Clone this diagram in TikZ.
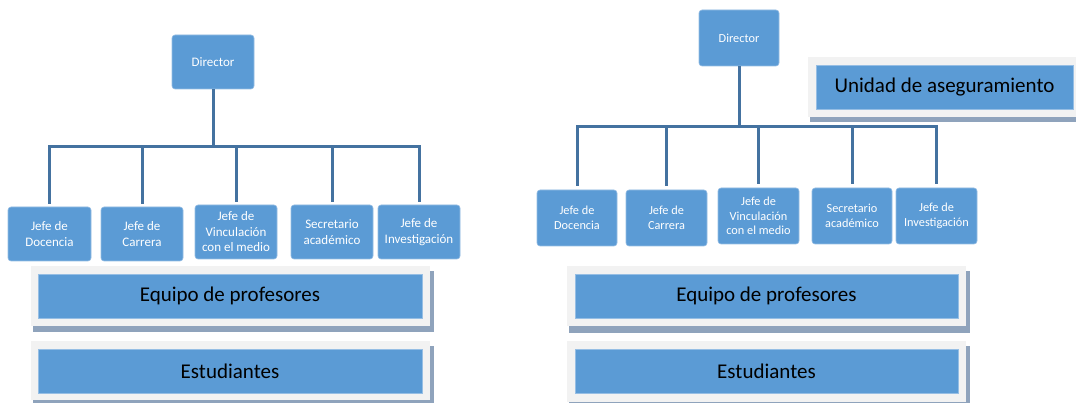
\documentclass[tikz,border=0pt]{standalone}
\usepackage{fontspec}
\setmainfont{Carlito}
\definecolor{boxblue}{RGB}{91,155,213}
\definecolor{boxedge}{RGB}{150,190,228}
\definecolor{connblue}{RGB}{68,114,160}
\definecolor{framegrey}{RGB}{242,242,242}
\definecolor{shadowgrey}{RGB}{143,163,188}
\tikzset{
  orgbox/.style={draw=boxedge, line width=0.6pt, fill=boxblue, rounded corners=3pt,
    text=white, align=center, inner sep=0pt},
  leftsmall/.style={orgbox, font=\fontsize{13}{15.5}\selectfont},
  rightsmall/.style={orgbox, font=\fontsize{12.3}{14.5}\selectfont},
  bigbox/.style={fill=boxblue, draw=boxedge, line width=0.4pt, text=black, inner sep=0pt,
    font=\fontsize{21}{25}\selectfont},
  conn/.style={draw=connblue, line width=3pt},
}
\begin{document}
\begin{tikzpicture}[x=1pt,y=-1pt]
\clip (0,0) rectangle (1076,403);
\fill[white] (0,0) rectangle (1076,403);

% ---------- left chart ----------
\node[leftsmall, minimum width=82pt, minimum height=54pt] (dL) at (213,62) {Director};
\node[leftsmall, minimum width=83pt, minimum height=54pt] (L1) at (49.5,234) {Jefe de\\Docencia};
\node[leftsmall, minimum width=82pt, minimum height=54pt] (L2) at (142,234) {Jefe de\\Carrera};
\node[leftsmall, minimum width=82pt, minimum height=54pt] (L3) at (236,232) {Jefe de\\Vinculación\\con el medio};
\node[leftsmall, minimum width=82pt, minimum height=54pt] (L4) at (332,232) {Secretario\\académico};
\node[leftsmall, minimum width=82pt, minimum height=54pt] (L5) at (419,232) {Jefe de\\Investigación};
\coordinate (busL) at (0,147);
\foreach \c in {L1,L2,L3,L4,L5}{
  \draw[conn, shorten >=3pt] (dL.south) -- (dL.south |- busL) -| (\c.north);
}

% big boxes left
\fill[shadowgrey] (33,271) rectangle (434,332);
\fill[framegrey] (31,266) rectangle (430,326);
\node[bigbox, minimum width=384pt, minimum height=44pt] (eqL) at (230,296) {Equipo de profesores};
\fill[shadowgrey] (33,346) rectangle (434,407);
\fill[framegrey] (31,341) rectangle (430,400);
\node[bigbox, minimum width=384pt, minimum height=44pt] (esL) at (230,371) {Estudiantes};

% ---------- right chart ----------
\node[rightsmall, minimum width=80pt, minimum height=56pt] (dR) at (739,38) {Director};
\node[rightsmall, minimum width=80pt, minimum height=56pt] (R1) at (577,218) {Jefe de\\Docencia};
\node[rightsmall, minimum width=81pt, minimum height=56pt] (R2) at (666.5,218) {Jefe de\\Carrera};
\node[rightsmall, minimum width=81pt, minimum height=56pt] (R3) at (758.5,216) {Jefe de\\Vinculación\\con el medio};
\node[rightsmall, minimum width=80pt, minimum height=56pt] (R4) at (852,216) {Secretario\\académico};
\node[rightsmall, minimum width=81pt, minimum height=56pt] (R5) at (936.5,216) {Jefe de\\Investigación};
\coordinate (busR) at (0,127);
\foreach \c in {R1,R2,R3,R4,R5}{
  \draw[conn, shorten >=3.5pt] (dR.south) -- (dR.south |- busR) -| (\c.north);
}

% Unidad de aseguramiento
\fill[shadowgrey] (810,62) rectangle (1080,122);
\fill[framegrey] (808,57) rectangle (1080,117);
\node[bigbox, minimum width=257pt, minimum height=44pt] (un) at (944.5,87) {Unidad de aseguramiento};

% big boxes right
\fill[shadowgrey] (569,271) rectangle (970,333);
\fill[framegrey] (567,266) rectangle (966,326);
\node[bigbox, minimum width=383pt, minimum height=44pt] (eqR) at (766.5,296) {Equipo de profesores};
\fill[shadowgrey] (569,346) rectangle (970,409);
\fill[framegrey] (567,341) rectangle (966,402);
\node[bigbox, minimum width=383pt, minimum height=44pt] (esR) at (766.5,371) {Estudiantes};
\end{tikzpicture}
\end{document}
